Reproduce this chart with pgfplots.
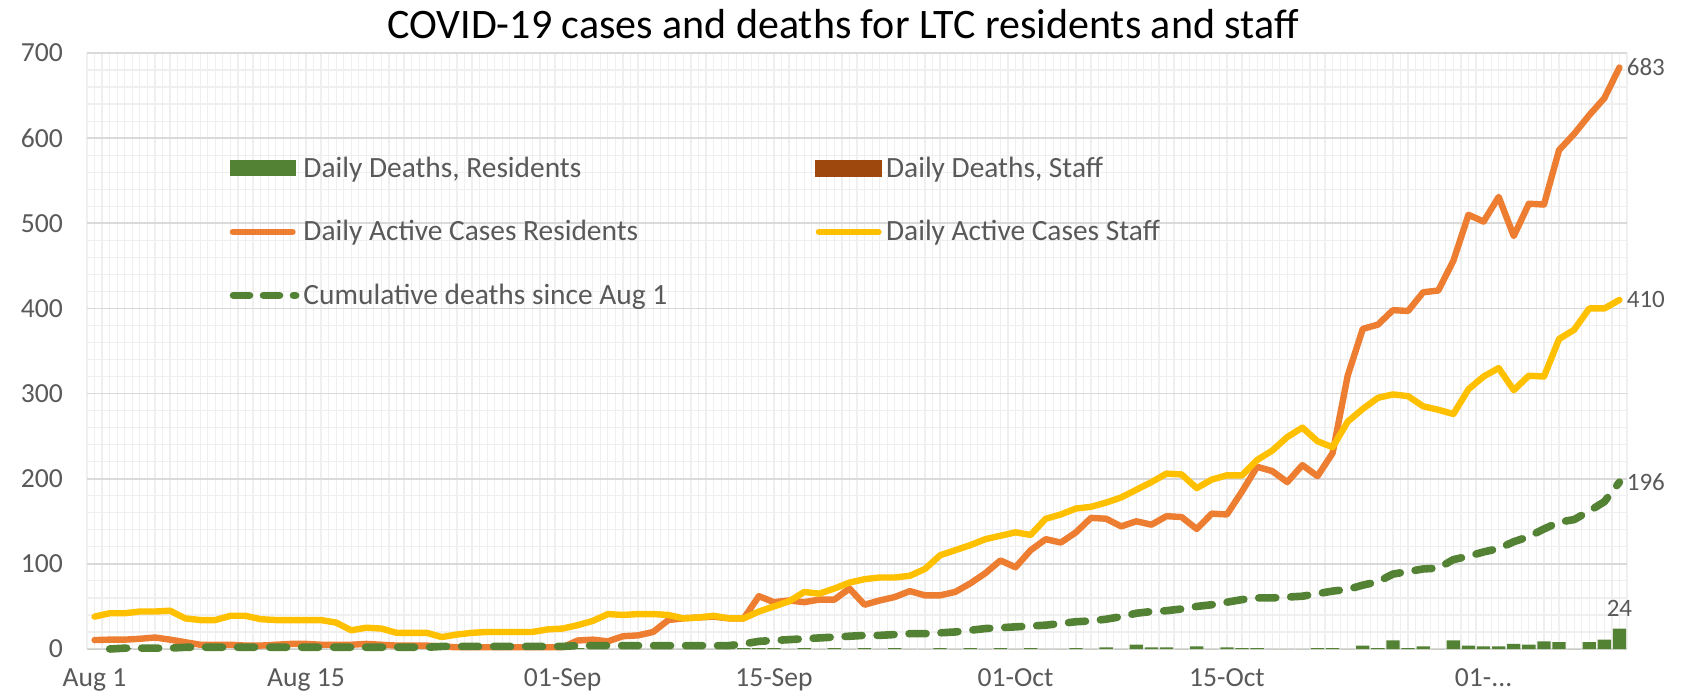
\documentclass[border=0pt]{standalone}
\usepackage{fontspec}
\setmainfont{Carlito}
\usepackage{pgfplots}
\pgfplotsset{compat=1.18}
\usepackage{pgfplotstable}

\definecolor{cgreen}{HTML}{548235}
\definecolor{corange}{HTML}{ED7D31}
\definecolor{cyellow}{HTML}{FFC000}
\definecolor{cbrown}{HTML}{9E480E}
\definecolor{ctext}{HTML}{595959}
\definecolor{cgridmaj}{HTML}{D9D9D9}
\definecolor{cgridmin}{HTML}{EFEFEF}

% day: 0 = Aug 1 ... 101 = Nov 10
\pgfplotstableread{
day res staff cum deaths
0 10.5 38 nan 0
1 11 42 0 0
2 11 42 1 1
3 12 44 1 0
4 13.5 44 1 0
5 11 45 1 0
6 8 36 2 1
7 5 34 2 0
8 5 34 2 0
9 5 39 2 0
10 4 39 2 0
11 4 35 2 0
12 5 34 2 0
13 6 34 2 0
14 6 34 2 0
15 5 34 2 0
16 5 31 2 0
17 5 22 2 0
18 6 25 2 0
19 5 24 2 0
20 4 19 2 0
21 4 19 2 0
22 4 19 2 0
23 3 14 3 1
24 2 17 3 0
25 2 19 3 0
26 2 20 3 0
27 2 20 3 0
28 2 20 3 0
29 2 20 3 0
30 2 23 3 0
31 2 24 3 0
32 10 28 4 1
33 11 33 4 0
34 9 41 4 0
35 15 40 4 0
36 16 41 4 0
37 20 41 4 0
38 34 40 4 0
39 36 36 4 0
40 37 37 4 0
41 38 39 4 0
42 36 36 4 0
43 36 36 6 1
44 62 44 9 1
45 55 50 10 1
46 57 56 11 0
47 55 67 12 1
48 58 65 13 0
49 58 71 14 1
50 71 78 15 0
51 52 82 16 1
52 57 84 16 0
53 61 84 17 1
54 68 86 18 0
55 63 94 18 0
56 63 110 19 1
57 67 116 20 0
58 77 122 22 1
59 89 129 24 0
60 104 133 25 1
61 96 137 26 0
62 116 134 27 1
63 129 153 28 0
64 125 158 30 0
65 137 165 32 1
66 154 167 33 0
67 153 172 35 2
68 144 178 38 0
69 150 187 42 5
70 146 196 44 2
71 156 206 45 2
72 155 205 47 0
73 141 189 50 3
74 159 199 52 0
75 158 204 55 2
76 185 204 58 1
77 214 222 60 1
78 209 233 60 0
79 196 249 61 0
80 216 260 62 0
81 203 244 65 1
82 230 237 68 1
83 321 267 70 0
84 376 282 75 4
85 381 295 79 1
86 398 299 88 10
87 397 297 91 1
88 419 285 94 3
89 421 281 95 0
90 456 276 105 10
91 510 305 109 4
92 502 320 114 3
93 531 330 118 3
94 485 304 126 6
95 523 321 132 5
96 522 320 141 9
97 586 364 149 8
98 605 375 152 0
99 627 400 162 8
100 647 400 173 11
101 683 410 196 24
}\covid

\begin{document}
\begin{tikzpicture}
\useasboundingbox (-43.5pt,-24pt) rectangle (798pt,324.5pt);
\begin{axis}[
  at={(0pt,0pt)}, anchor=south west,
  scale only axis, width=770pt, height=298pt,
  clip=false,
  xmin=-0.5, xmax=101.5, ymin=0, ymax=700,
  xtick={0,14,31,45,61,75,92},
  xticklabels={Aug 1,Aug 15,01-Sep,15-Sep,01-Oct,15-Oct,{01-.\kern0pt.\kern0pt.}},
  minor xtick={-0.5,0,...,101.5},
  ytick={0,100,...,700},
  minor y tick num=4,
  xminorgrids, yminorgrids, ymajorgrids, xmajorgrids=false,
  major grid style={draw=cgridmaj, line width=0.8pt},
  minor grid style={draw=cgridmin, line width=0.6pt},
  major tick length=0pt, minor tick length=0pt,
  axis line style={draw=none},
  /pgf/number format/assume math mode=true,
  ticklabel style={font=\fontsize{13.8}{16}\selectfont, text=ctext},
  xticklabel style={yshift=-6.5pt},
  yticklabel style={xshift=-8.5pt},
  legend columns=2,
  legend cell align=left,
  legend style={
    at={(0.0885,0.84)}, anchor=north west,
    draw=none, fill=none,
    font=\fontsize{14.7}{17}\selectfont, text=ctext,
    row sep=16pt,
    /tikz/every even column/.append style={column sep=72pt},
  },
]
\addplot[ybar, bar width=0.88, fill=cgreen, draw=none,
  legend image code/.code={\fill[cgreen] (0pt,-4pt) rectangle (33pt,4pt);}]
  table[x=day, y=deaths] {\covid};
\addlegendentry{Daily Deaths, Residents}
\addlegendimage{legend image code/.code={\fill[cbrown] (0pt,-4pt) rectangle (33pt,4pt);}}
\addlegendentry{Daily Deaths, Staff}
\addplot[corange, line width=3.2pt, line join=round, line cap=round,
  legend image code/.code={\draw[corange, line width=3.2pt, line cap=round] (1.6pt,0pt) -- (31.4pt,0pt);}]
  table[x=day, y=res] {\covid};
\addlegendentry{Daily Active Cases Residents}
\addplot[cyellow, line width=3.2pt, line join=round, line cap=round,
  legend image code/.code={\draw[cyellow, line width=3.2pt, line cap=round] (1.6pt,0pt) -- (31.4pt,0pt);}]
  table[x=day, y=staff] {\covid};
\addlegendentry{Daily Active Cases Staff}
\addplot[cgreen, line width=3.8pt, line join=round, line cap=round, dash pattern=on 8.5pt off 7.5pt,
  legend image code/.code={\draw[cgreen, line width=3.8pt, line cap=round, dash pattern=on 8pt off 7pt] (1.9pt,0pt) -- (33pt,0pt);}]
  table[x=day, y=cum] {\covid};
\addlegendentry{Cumulative deaths since Aug 1}

\node[anchor=west, inner sep=1pt, xshift=2.5pt, font=\fontsize{12.5}{14}\selectfont, text=ctext] at (axis cs:101,683) {683};
\node[anchor=west, inner sep=1pt, xshift=2.5pt, font=\fontsize{12.5}{14}\selectfont, text=ctext] at (axis cs:101,410) {410};
\node[anchor=west, inner sep=1pt, xshift=2.5pt, font=\fontsize{12.5}{14}\selectfont, text=ctext] at (axis cs:101,196) {196};
\node[anchor=south, inner sep=1pt, yshift=5pt, font=\fontsize{12.5}{14}\selectfont, text=ctext] at (axis cs:101,24) {24};
\end{axis}
\node[font=\fontsize{21}{25}\selectfont, text=black] at (378pt,312.5pt) {COVID-19 cases and deaths for LTC residents and staff};
\end{tikzpicture}
\end{document}
